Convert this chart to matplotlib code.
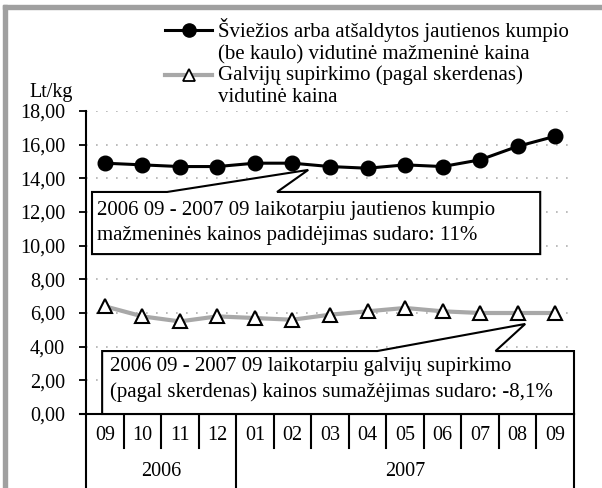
import numpy as np
import matplotlib.pyplot as plt
from matplotlib.lines import Line2D
from matplotlib.patches import Polygon, Rectangle

plt.rcParams["font.family"] = ["Liberation Serif", "DejaVu Serif"]

months = ["09", "10", "11", "12", "01", "02", "03", "04", "05", "06", "07", "08", "09"]
years = ["2006", "2007"]
year_span = [(0, 3), (4, 12)]
retail_price = [14.9, 14.8, 14.7, 14.7, 14.9, 14.9, 14.7, 14.6, 14.8, 14.7, 15.1, 15.9, 16.5]
purchase_price = [6.4, 5.8, 5.5, 5.8, 5.7, 5.6, 5.9, 6.1, 6.3, 6.1, 6.0, 6.0, 6.0]
yticks = np.arange(0, 19, 2)

label_retail = "Šviežios arba atšaldytos jautienos kumpio\n(be kaulo) vidutinė mažmeninė kaina"
label_purchase = "Galvijų supirkimo (pagal skerdenas)\nvidutinė kaina"
note_retail = "2006 09 - 2007 09 laikotarpiu jautienos kumpio\nmažmeninės kainos padidėjimas sudaro: 11%"
note_purchase = "2006 09 - 2007 09 laikotarpiu galvijų supirkimo\n(pagal skerdenas) kainos sumažėjimas sudaro: -8,1%"

W, H = 602, 488
fig = plt.figure(figsize=(W / 100, H / 100), dpi=100)
ax = fig.add_axes([86 / W, 74 / H, 488 / W, 303 / H])

x = np.arange(len(months))
ax.plot(x, purchase_price, color="#a8a8a8", lw=3, zorder=3)
ax.plot(x, purchase_price, ls="none", marker="^", ms=10.5, mfc="white",
        mec="black", mew=1.5, zorder=4)
ax.plot(x, retail_price, color="black", lw=2.2, marker="o", ms=10.5,
        mfc="black", zorder=5)

ax.set_xlim(-0.5, len(months) - 0.5)
ax.set_ylim(0, 18)
ax.set_yticks(yticks)
ax.set_yticklabels([f"{v:.2f}".replace(".", ",") for v in yticks], fontsize=14.5)
ax.tick_params(axis="y", length=5, width=1.3, pad=10)
ax.set_xticks([])
for v in yticks[1:]:
    ax.axhline(v, color="#b0b0b0", ls=(0, (1, 5)), lw=1.2, zorder=1)
for s in ["top", "right"]:
    ax.spines[s].set_visible(False)
ax.spines["left"].set_linewidth(1.5)
ax.spines["bottom"].set_linewidth(1.5)
ax.spines["bottom"].set_bounds(-0.65, len(months) - 0.5)

# category axis with month and year rows
tr = ax.get_xaxis_transform()
short = -34 / 303
long = -76 / 303
for i in range(len(months) + 1):
    edge = i - 0.5
    is_long = i in (0, 4, len(months))
    ax.plot([edge, edge], [0, long if is_long else short], color="black",
            lw=1.5, transform=tr, clip_on=False)
for i, m in enumerate(months):
    ax.text(i, -21 / 303, m, transform=tr, ha="center", va="center", fontsize=14.5)
for (a, b), yr in zip(year_span, years):
    ax.text((a + b) / 2, -58 / 303, yr, transform=tr, ha="center", va="center",
            fontsize=14.5)

# callout boxes
def callout(x0, x1, y0, y1, b0, b1, tip, text, tx, ty):
    pts = [(x0, y0), (x0, y1), (b0, y1), tip, (b1, y1), (x1, y1), (x1, y0)]
    ax.add_patch(Polygon(pts, closed=True, fc="white", ec="black", lw=1.5,
                         zorder=6, clip_on=False))
    ax.text(tx, ty, text, ha="left", va="center", fontsize=15,
            linespacing=1.4, zorder=7)

callout(-0.34, 11.6, 9.5, 13.19, 1.66, 4.59, (5.42, 14.5), note_retail, -0.2, 11.35)
callout(-0.07, 12.5, 0.0, 3.74, 7.26, 10.41, (11.2, 5.35), note_purchase, 0.13, 2.05)

ax.text(-1.43, 19.1, "Lt/kg", ha="center", va="center", fontsize=14.5)

# legend drawn by hand so the sample sits on the first text line
fig.add_artist(Line2D([165 / W, 212 / W], [1 - 30 / H] * 2, color="black", lw=2.2))
fig.add_artist(Line2D([189 / W], [1 - 30 / H], color="black", marker="o", ms=9.5))
fig.add_artist(Line2D([165 / W, 212 / W], [1 - 75 / H] * 2, color="#a8a8a8", lw=3))
fig.add_artist(Line2D([189 / W], [1 - 75 / H], ls="none", marker="^", ms=9,
                      mfc="white", mec="black", mew=1.3))
fig.text(218 / W, 1 - 41.5 / H, label_retail, ha="left", va="center", fontsize=15,
         linespacing=1.25)
fig.text(218 / W, 1 - 86 / H, label_purchase, ha="left", va="center", fontsize=15,
         linespacing=1.25)

# grey frame on the left and top
fig.add_artist(Rectangle((3 / W, 0), 4 / W, 1 - 5 / H, transform=fig.transFigure,
                         color="#a0a0a0"))
fig.add_artist(Rectangle((3 / W, 1 - 9 / H), 1 - 3 / W, 4 / H,
                         transform=fig.transFigure, color="#a0a0a0"))

fig.savefig("out.png", dpi=100)
